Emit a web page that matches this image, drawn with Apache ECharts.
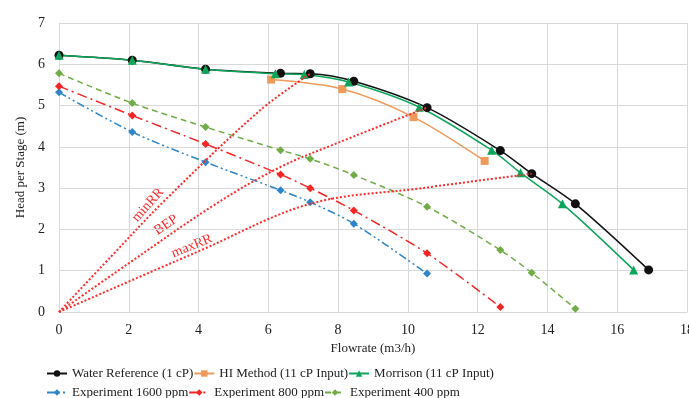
<!DOCTYPE html>
<html>
<head>
<meta charset="utf-8">
<script src="https://cdn.jsdelivr.net/npm/echarts@6/dist/echarts.min.js"></script>
<style>
    html, body { margin: 0; padding: 0; background: #fff; }
    #chart { width: 689px; height: 398px; }
</style>
</head>
<body>
<div id="chart"></div>
<script>
// flowrate (m3/h) and head per stage (m) for each curve
const flowWater = [0, 2.1, 4.2, 6.35, 7.2, 8.45, 10.55, 12.65, 13.55, 14.8, 16.9];
const headWater = [6.22, 6.1, 5.88, 5.78, 5.77, 5.59, 4.95, 3.91, 3.35, 2.62, 1.02];

const flowHI = [6.08, 8.12, 10.16, 12.2];
const headHI = [5.63, 5.4, 4.72, 3.66];

const flowMorrison = [0, 2.1, 4.2, 6.2, 7.03, 8.3, 10.33, 12.4, 13.23, 14.43, 16.47];
const headMorrison = [6.22, 6.1, 5.88, 5.77, 5.75, 5.57, 4.96, 3.92, 3.37, 2.62, 1.02];

const flowExp = [0, 2.1, 4.2, 6.35, 7.2, 8.45, 10.55, 12.65, 13.55, 14.8];
const head1600 = [5.32, 4.36, 3.63, 2.95, 2.66, 2.14, 0.93];
const head800 = [5.47, 4.76, 4.07, 3.33, 3.0, 2.46, 1.42, 0.12];
const head400 = [5.78, 5.06, 4.48, 3.92, 3.71, 3.32, 2.55, 1.5, 0.95, 0.08];

// dotted reference lines from origin
const minRRFlow = [0, 1.5, 3.04, 5.77, 7.2];
const minRRHead = [0, 1.35, 2.71, 4.89, 5.77];
const bepFlow = [0, 2, 4.5, 6.34, 8, 10.55];
const bepHead = [0, 1.18, 2.62, 3.51, 4.1, 4.95];
const maxRRFlow = [0, 4, 7.2, 10.4, 13.55];
const maxRRHead = [0, 1.47, 2.62, 3.0, 3.35];

const xTicks = [0, 18, 2];
const yTicks = [0, 7, 1];

const pairs = (xs, ys) => ys.map((y, i) => [xs[i], y]);

const font = 'Liberation Serif';
const chart = echarts.init(document.getElementById('chart'));

const dataLine = (name, xs, ys, color, symbol, size, dash) => ({
    name: name,
    type: 'line',
    smooth: 0.3,
    data: pairs(xs, ys),
    symbol: symbol,
    symbolSize: size,
    itemStyle: { color: color },
    lineStyle: { color: color, width: 1.5, type: dash || 'solid' },
    emphasis: { disabled: true }
});

const refLine = (name, xs, ys) => ({
    name: name,
    type: 'line',
    smooth: 0.35,
    data: pairs(xs, ys),
    symbol: 'none',
    lineStyle: { color: '#FF2A2A', width: 2, type: [2, 2] },
    z: 5,
    emphasis: { disabled: true }
});

const legendCommon = {
    left: 41,
    itemWidth: 20,
    itemHeight: 8,
    itemGap: 0,
    textStyle: { fontFamily: font, fontSize: 13, color: '#222', width: 122 }
};

const labelStyle = text => ({
    text: text,
    fill: '#FF2A2A',
    font: '14px "Liberation Serif"',
    align: 'center',
    verticalAlign: 'middle'
});

const option = {
    animation: false,
    grid: { left: 59, right: 2, top: 23, bottom: 86, outerBoundsMode: 'none' },
    xAxis: {
        type: 'value',
        min: xTicks[0],
        max: xTicks[1],
        interval: xTicks[2],
        name: 'Flowrate (m3/h)',
        nameLocation: 'middle',
        nameGap: 28,
        nameTextStyle: { fontFamily: font, fontSize: 13, color: '#222' },
        axisLine: { lineStyle: { color: '#d9d9d9' } },
        axisTick: { show: false },
        axisLabel: { fontFamily: font, fontSize: 14, color: '#222', margin: 11 },
        splitLine: { lineStyle: { color: '#d9d9d9' } }
    },
    yAxis: {
        type: 'value',
        min: yTicks[0],
        max: yTicks[1],
        interval: yTicks[2],
        name: 'Head per Stage (m)',
        nameLocation: 'middle',
        nameGap: 30,
        nameTextStyle: { fontFamily: font, fontSize: 13, color: '#222' },
        axisLine: { show: true, lineStyle: { color: '#d9d9d9' } },
        axisTick: { show: false },
        axisLabel: { fontFamily: font, fontSize: 14, color: '#222', margin: 14 },
        splitLine: { lineStyle: { color: '#d9d9d9' } }
    },
    legend: [
        Object.assign({ top: 362, data: ['Water Reference (1 cP)', 'HI Method (11 cP Input)', 'Morrison (11 cP Input)'] }, legendCommon),
        Object.assign({ top: 381, data: ['Experiment 1600 ppm', 'Experiment 800 ppm', 'Experiment 400 ppm'] }, legendCommon)
    ],
    series: [
        dataLine('Experiment 1600 ppm', flowExp, head1600, '#2E86C8', 'diamond', 8, [8, 3, 2, 3, 2, 3]),
        dataLine('Experiment 800 ppm', flowExp, head800, '#F42525', 'diamond', 8, [10, 4, 2, 4]),
        dataLine('Experiment 400 ppm', flowExp, head400, '#70AD47', 'diamond', 8, [6, 4]),
        dataLine('Water Reference (1 cP)', flowWater, headWater, '#111', 'circle', 9),
        dataLine('HI Method (11 cP Input)', flowHI, headHI, '#EE9A5A', 'rect', 8),
        dataLine('Morrison (11 cP Input)', flowMorrison, headMorrison, '#0DA55A', 'triangle', 9),
        refLine('minRR', minRRFlow, minRRHead),
        refLine('BEP', bepFlow, bepHead),
        refLine('maxRR', maxRRFlow, maxRRHead)
    ],
    graphic: [
        { type: 'text', x: 148, y: 205, rotation: 48 * Math.PI / 180, style: labelStyle('minRR') },
        { type: 'text', x: 166, y: 225, rotation: 34 * Math.PI / 180, style: labelStyle('BEP') },
        { type: 'text', x: 192, y: 246, rotation: 22 * Math.PI / 180, style: labelStyle('maxRR') }
    ]
};

chart.setOption(option);
window.addEventListener('resize', () => {
    chart.resize();
});
</script>
</body>
</html>
